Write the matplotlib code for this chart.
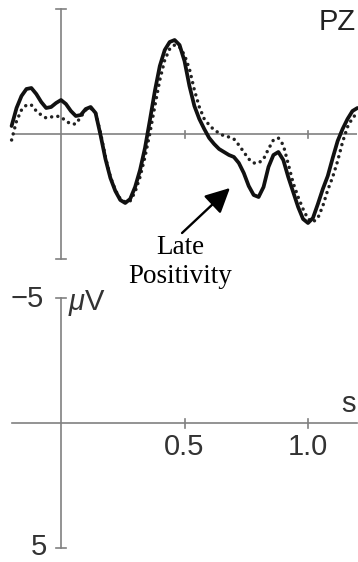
import numpy as np
import matplotlib
matplotlib.use("Agg")
from matplotlib import pyplot as plt

plt.rcParams['font.family'] = ['Liberation Sans', 'DejaVu Sans']
plt.rcParams['mathtext.fontset'] = 'custom'
plt.rcParams['mathtext.it'] = 'Liberation Sans:italic'
plt.rcParams['mathtext.rm'] = 'Liberation Sans'

# time samples (s) read every 20 ms off the trace
time = [-0.20, -0.18, -0.16, -0.14, -0.12, -0.10, -0.08, -0.06, -0.04, -0.02,
        0.00, 0.02, 0.04, 0.06, 0.08, 0.10, 0.12, 0.14, 0.16, 0.18,
        0.20, 0.22, 0.24, 0.26, 0.28, 0.30, 0.32, 0.34, 0.36, 0.38,
        0.40, 0.42, 0.44, 0.46, 0.48, 0.50, 0.52, 0.54, 0.56, 0.58,
        0.60, 0.62, 0.64, 0.66, 0.68, 0.70, 0.72, 0.74, 0.76, 0.78,
        0.80, 0.82, 0.84, 0.86, 0.88, 0.90, 0.92, 0.94, 0.96, 0.98,
        1.00, 1.02, 1.04, 1.06, 1.08, 1.10, 1.12, 1.14, 1.16, 1.18,
        1.20]

# solid trace (uV, negative up)
solid = [-0.32, -1.04, -1.52, -1.80, -1.84, -1.60, -1.28, -1.04, -1.08, -1.24,
         -1.36, -1.20, -0.92, -0.72, -0.76, -1.00, -1.08, -0.84, 0.04, 1.00,
         1.76, 2.28, 2.64, 2.76, 2.60, 2.12, 1.44, 0.56, -0.56, -1.72,
         -2.72, -3.36, -3.68, -3.76, -3.56, -2.92, -1.92, -1.12, -0.60, -0.20,
         0.16, 0.40, 0.60, 0.72, 0.84, 0.92, 1.16, 1.56, 2.08, 2.44,
         2.52, 2.12, 1.32, 0.84, 0.72, 1.04, 1.72, 2.32, 2.92, 3.40,
         3.56, 3.36, 2.80, 2.20, 1.68, 0.96, 0.28, -0.20, -0.60, -0.92,
         -1.04]

# dotted trace (uV)
dotted = [0.24, -0.52, -0.96, -1.16, -1.16, -0.92, -0.76, -0.64, -0.68, -0.72,
          -0.68, -0.52, -0.40, -0.40, -0.68, -0.96, -1.04, -0.84, -0.04, 0.92,
          1.72, 2.24, 2.60, 2.72, 2.68, 2.32, 1.72, 0.92, -0.04, -1.12,
          -2.16, -2.96, -3.40, -3.56, -3.48, -3.16, -2.60, -1.76, -1.08, -0.60,
          -0.36, -0.16, -0.04, 0.08, 0.12, 0.20, 0.44, 0.72, 1.00, 1.16,
          1.16, 1.00, 0.60, 0.24, 0.16, 0.44, 1.20, 1.96, 2.52, 3.00,
          3.40, 3.52, 3.36, 2.88, 2.24, 1.72, 1.08, 0.32, -0.28, -0.64,
          -0.84]

x_ticks = [0.5, 1.0]
x_tick_labels = ['0.5', '1.0']
y_range = [-5, 5]

W, H = 358, 562
fig = plt.figure(figsize=(W / 100, H / 100), dpi=100)

gray = '#808080'
axis_lw = 1.2
cap = 0.02
fs = 21

# top panel: waveform
ax = fig.add_axes([0, 1 - 280 / H, 1, 280 / H])
ax.set_xlim(-61 / 247, 297 / 247)
ax.set_ylim(146 / 25, -134 / 25)
ax.axis('off')

ax.plot([-0.2, 1.2], [0, 0], color=gray, lw=axis_lw, solid_capstyle='butt')
ax.plot([0, 0], y_range, color=gray, lw=axis_lw)
for yv in y_range:
    ax.plot([-cap, cap], [yv, yv], color=gray, lw=axis_lw)
for xt in x_ticks:
    ax.plot([xt, xt], [-0.14, 0.14], color=gray, lw=axis_lw)

ax.plot(time, dotted, color='#222222', lw=2.5, linestyle=(0, (0.01, 1.8)),
        dash_capstyle='round', clip_on=False)
ax.plot(time, solid, color='#111111', lw=2.7, solid_joinstyle='round',
        solid_capstyle='round', clip_on=False)

ax.text(1.195, -4.5, 'PZ', fontsize=fs, ha='right', va='center', color='#222222')

ax.annotate('', xy=(0.684, 2.16), xytext=(0.49, 3.96),
            arrowprops=dict(arrowstyle='-|>,head_length=1.0,head_width=0.5',
                            mutation_scale=15, color='black', lw=1.7,
                            shrinkA=0, shrinkB=0))
ax.text(0.482, 5.12, 'Late\nPositivity', fontsize=19.5, ha='center', va='center',
        family='Liberation Serif', linespacing=1.2, clip_on=False)

# bottom panel: scale bars
bx = fig.add_axes([0, 0, 1, 282 / H])
bx.set_xlim(-61 / 247, 297 / 247)
bx.set_ylim(139 / 25, -143 / 25)
bx.axis('off')

bx.plot([-0.2, 1.2], [0, 0], color=gray, lw=axis_lw)
bx.plot([0, 0], y_range, color=gray, lw=axis_lw)
for yv in y_range:
    bx.plot([-cap, cap], [yv, yv], color=gray, lw=axis_lw)
for xt, lab in zip(x_ticks, x_tick_labels):
    bx.plot([xt, xt], [-0.18, 0.18], color=gray, lw=axis_lw)
    bx.text(xt, 0.95, lab, fontsize=fs, ha='center', va='center', color='#333333')

bx.text(-0.068, -4.95, '\u22125', fontsize=fs, ha='right', va='center', color='#333333')
bx.text(-0.056, 4.96, '5', fontsize=fs, ha='right', va='center', color='#333333')
bx.text(0.028, -4.8, r'$\mu$V', fontsize=fs, ha='left', va='center', color='#333333')
bx.text(1.162, -0.75, 's', fontsize=fs, ha='center', va='center', color='#333333')

fig.savefig('out.png', dpi=100)
